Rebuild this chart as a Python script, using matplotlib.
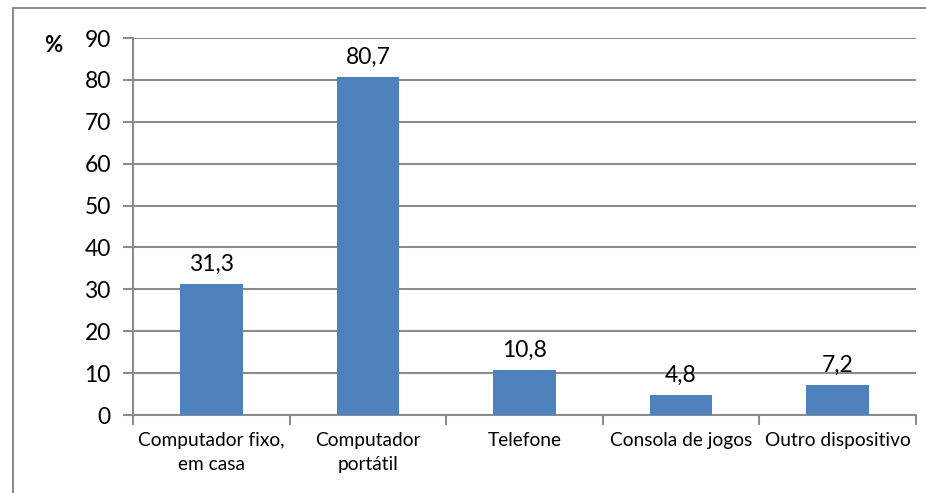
import numpy as np
import matplotlib as mpl
import matplotlib.pyplot as plt
from matplotlib.patches import Rectangle

categories = ['Computador fixo,\nem casa', 'Computador\nportátil', 'Telefone',
              'Consola de jogos', 'Outro dispositivo']
values = [31.3, 80.7, 10.8, 4.8, 7.2]
value_labels = ['31,3', '80,7', '10,8', '4,8', '7,2']
yticks = [0, 10, 20, 30, 40, 50, 60, 70, 80, 90]

plt.rcParams['font.family'] = ['Lato', 'DejaVu Sans']

fig = plt.figure(figsize=(9.26, 4.93), dpi=100)
ax = fig.add_axes([133/926, 1 - 415/493, (916 - 133)/926, (415 - 38)/493])

# outer frame (cut off at right and bottom like the source)
fig.patches.append(Rectangle((13/926, -0.1), 1.2, 1 - 8/493 + 0.1, transform=fig.transFigure,
                             fill=False, edgecolor='#7f7f7f', linewidth=1.3))

x = np.arange(len(categories))
ax.bar(x, values, width=0.4, color='#4F81BD', zorder=3)
for xi, v, lab in zip(x, values, value_labels):
    ax.text(xi, v + 2.2, lab, ha='center', va='bottom', fontsize=16.5)

ax.set_xlim(-0.5, len(categories) - 0.5)
ax.set_ylim(0, 90)
ax.set_yticks(yticks)
ax.set_yticklabels([str(t) for t in yticks], fontsize=16.5)
ax.yaxis.grid(True, color='#8c8c8c', linewidth=1.5, zorder=0)
ax.tick_params(axis='y', length=7, width=1.5, color='#8c8c8c', pad=9)

ax.set_xticks(x)
ax.set_xticklabels(categories, fontsize=13.8, linespacing=1.5)
ax.tick_params(axis='x', length=0, pad=12)
ax.set_xticks(np.arange(len(categories) + 1) - 0.5, minor=True)
ax.tick_params(axis='x', which='minor', length=7, width=1.5, color='#8c8c8c')

for s in ['top', 'right']:
    ax.spines[s].set_visible(False)
for s in ['left', 'bottom']:
    ax.spines[s].set_color('#8c8c8c')
    ax.spines[s].set_linewidth(1.5)

fig.text(53/926, 1 - 46/493, '%', ha='center', va='center', fontsize=16, fontweight='bold')

fig.savefig('out.png', dpi=100)
